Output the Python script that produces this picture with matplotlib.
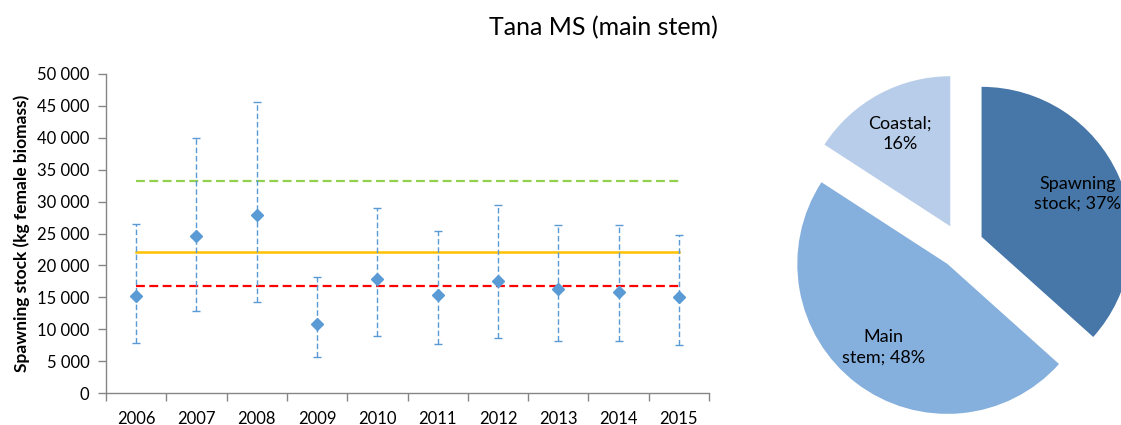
import matplotlib
matplotlib.use("Agg")
import matplotlib.pyplot as plt
from matplotlib.ticker import FuncFormatter, FixedLocator

plt.rcParams['font.family'] = ['Lato', 'DejaVu Sans']

years = ['2006', '2007', '2008', '2009', '2010', '2011', '2012', '2013', '2014', '2015']
stock = [15200, 24600, 27900, 10800, 17800, 15400, 17600, 16300, 15800, 15000]
upper = [26500, 40000, 45600, 18200, 29000, 25400, 29400, 26400, 26400, 24700]
lower = [7800, 12800, 14200, 5600, 9000, 7700, 8600, 8100, 8100, 7600]
green_level = 33300
orange_level = 22150
red_level = 16700

pie_labels = ['Spawning\nstock; 37%', 'Main\nstem; 48%', 'Coastal;\n16%']
pie_values = [37, 48, 16]
pie_colors = ['#4677A8', '#85AFDC', '#B8CDE9']

W, H = 1121, 425
fig = plt.figure(figsize=(W / 100, H / 100), dpi=100)

ax = fig.add_axes([106 / W, (H - 393) / H, 603 / W, 319 / H])
x = list(range(len(years)))
yerr = [[s - l for s, l in zip(stock, lower)], [u - s for s, u in zip(stock, upper)]]
eb = ax.errorbar(x, stock, yerr=yerr, fmt='D', color='#5B9BD5', ms=6,
                 ecolor='#5B9BD5', elinewidth=1.0, capsize=3, capthick=1.0, zorder=3)
eb[2][0].set_linestyle((0, (4, 2)))

xs = [x[0], x[-1]]
ax.plot(xs, [green_level] * 2, color='#92D050', lw=1.6, ls=(0, (4, 2)), zorder=2)
ax.plot(xs, [orange_level] * 2, color='#FFC000', lw=1.8, ls='-', zorder=2)
ax.plot(xs, [red_level] * 2, color='#FF0000', lw=1.6, ls=(0, (4, 2)), zorder=2)

ax.set_xlim(-0.5, len(years) - 0.5)
ax.set_ylim(0, 50000)
ax.set_yticks(range(0, 50001, 5000))
ax.yaxis.set_major_formatter(FuncFormatter(lambda v, p: f"{int(v):,}".replace(',', ' ')))
ax.xaxis.set_major_locator(FixedLocator([i - 0.5 for i in range(len(years) + 1)]))
ax.xaxis.set_minor_locator(FixedLocator(x))
ax.set_xticklabels([])
ax.set_xticklabels(years, minor=True)
ax.tick_params(axis='x', which='major', length=6, color='#868686', width=1)
ax.tick_params(axis='x', which='minor', length=0, pad=13, labelsize=12)
ax.tick_params(axis='y', length=6, color='#868686', width=1, labelsize=12, pad=6)
for s in ['top', 'right']:
    ax.spines[s].set_visible(False)
for s in ['left', 'bottom']:
    ax.spines[s].set_color('#868686')
    ax.spines[s].set_linewidth(1)
ax.set_ylabel('Spawning stock (kg female biomass)', fontsize=12.5, fontweight='bold', labelpad=5)

# pie
cx, cy, R = 961, H - 246, 150
x0, x1 = 760, W
ax2 = fig.add_axes([x0 / W, 0, (x1 - x0) / W, 1])
wedges, texts = ax2.pie(pie_values, labels=pie_labels, colors=pie_colors, startangle=90,
                        counterclock=False, explode=[0.15, 0.15, 0.15], labeldistance=0.7,
                        textprops={'fontsize': 13}, frame=True)
ax2.set_xlim((x0 - cx) / R, (x1 - cx) / R)
ax2.set_ylim((0 - cy) / R, (H - cy) / R)
ax2.set_aspect('auto')
ax2.axis('off')
for t in texts:
    t.set_ha('center')
    t.set_va('center')
    t.set_linespacing(1.3)

fig.text(603 / W, 1 - 28 / H, 'Tana MS (main stem)', ha='center', va='center', fontsize=18)

fig.savefig('out.png', dpi=100)
